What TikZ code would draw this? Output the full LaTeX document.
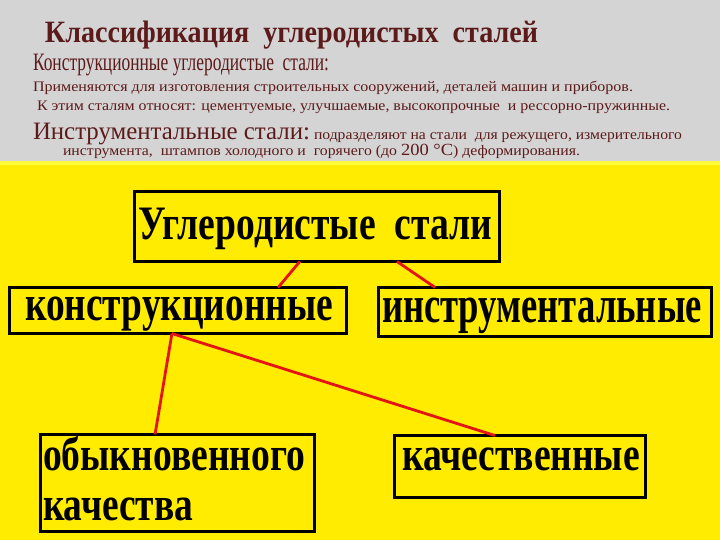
\documentclass[tikz,border=0pt]{standalone}
\usepackage{fontspec}
\setmainfont{Liberation Serif}[Script=Cyrillic]
\newfontfamily\sercyr{Liberation Serif}[Script=Cyrillic]
\usetikzlibrary{calc}
\definecolor{bggray}{RGB}{212,212,212}
\definecolor{bgyellow}{RGB}{255,236,0}
\definecolor{stripyellow}{RGB}{255,250,60}
\definecolor{maroontxt}{RGB}{92,26,26}
\definecolor{linkred}{RGB}{228,20,20}
\newcommand{\fitw}[2]{\resizebox{#1}{\height}{#2}}
\begin{document}
\begin{tikzpicture}[x=1pt,y=-1pt,
  txt/.style={inner sep=0pt, outer sep=0pt, anchor=base west, text=maroontxt},
  box/.style={draw=black, line width=3pt, inner sep=0pt, outer sep=0pt, rectangle},
  boxtxt/.style={inner sep=0pt, outer sep=0pt, anchor=base west, text=black},
  link/.style={draw=linkred, line width=2.8pt}]
\useasboundingbox (0,0) rectangle (720,540);
\fill[bggray] (0,0) rectangle (720,162);
\fill[bgyellow] (0,162) rectangle (720,540);
\fill[stripyellow] (0,161) rectangle (720,165);

% header texts
\node[txt, font=\sercyr\bfseries\fontsize{31}{36}\selectfont] (title) at (45,43) {\fitw{493pt}{Классификация\ \ углеродистых\ \ сталей}};
\node[txt, font=\sercyr\fontsize{25}{28}\selectfont] (l2) at (33,71) {\fitw{296pt}{Конструкционные углеродистые\ \ стали:}};
\node[txt, font=\sercyr\fontsize{14.5}{17}\selectfont] (l3) at (33,92) {\fitw{600pt}{Применяются для изготовления строительных сооружений, деталей машин и приборов.}};
\node[txt, font=\sercyr\fontsize{14.5}{17}\selectfont] (l4) at (37,111) {\fitw{633pt}{К этим сталям относят: цементуемые, улучшаемые, высокопрочные\ \ и рессорно-пружинные.}};
\node[txt, font=\sercyr\fontsize{25}{28}\selectfont] (l5a) at (33,140) {\fitw{277pt}{Инструментальные стали:}};
\node[txt, font=\sercyr\fontsize{14.5}{17}\selectfont] (l5b) at (314,140) {\fitw{368pt}{подразделяют на стали\ \ для режущего, измерительного}};
\node[txt, font=\sercyr\fontsize{14.5}{17}\selectfont] (l6) at (63,156) {\fitw{517pt}{инструмента,\ \ штампов холодного и\ \ горячего (до {\fontsize{17}{20}\selectfont 200 °С}) деформирования.}};

% boxes
\node[box, minimum width=365pt, minimum height=70pt] (b1) at (317,226.5) {};
\node[box, minimum width=337pt, minimum height=46pt] (b2) at (178,310.5) {};
\node[box, minimum width=333pt, minimum height=49pt] (b3) at (545,312) {};
\node[box, minimum width=274pt, minimum height=97pt] (b4) at (177.5,483) {};
\node[box, minimum width=251pt, minimum height=62pt] (b5) at (520,466.5) {};

% box texts
\node[boxtxt, font=\sercyr\bfseries\fontsize{48}{52}\selectfont] (t1) at (138,240) {\fitw{354pt}{Углеродистые\ \ стали}};
\node[boxtxt, font=\sercyr\bfseries\fontsize{50}{54}\selectfont] (t2) at (25,320) {\fitw{308pt}{конструкционные}};
\node[boxtxt, font=\sercyr\bfseries\fontsize{52}{56}\selectfont] (t3) at (382,322) {\fitw{320pt}{инструментальные}};
\node[boxtxt, font=\sercyr\bfseries\fontsize{48}{52}\selectfont] (t4a) at (43,470) {\fitw{262pt}{обыкновенного}};
\node[boxtxt, font=\sercyr\bfseries\fontsize{48}{52}\selectfont] (t4b) at (43,520) {\fitw{150pt}{качества}};
\node[boxtxt, font=\sercyr\bfseries\fontsize{48}{52}\selectfont] (t5) at (402,470) {\fitw{238pt}{качественные}};

% connectors
\draw[link] ($(b1.south west)!0.453!(b1.south east)$) -- ($(b2.north west)!0.797!(b2.north east)$);
\draw[link] ($(b1.south west)!0.719!(b1.south east)$) -- ($(b3.north west)!0.17!(b3.north east)$);
\draw[link] ($(b2.south west)!0.482!(b2.south east)$) -- ($(b4.north west)!0.418!(b4.north east)$);
\draw[link] ($(b2.south west)!0.482!(b2.south east)$) -- ($(b5.north west)!0.40!(b5.north east)$);
\end{tikzpicture}
\end{document}
